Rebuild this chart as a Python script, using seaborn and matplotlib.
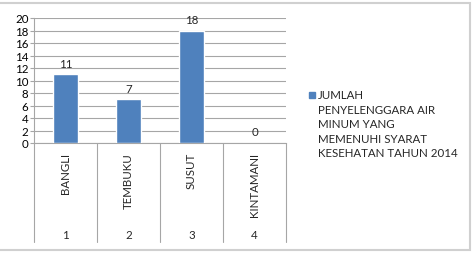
import matplotlib
matplotlib.use("Agg")
import matplotlib.pyplot as plt
from matplotlib.patches import Rectangle
import seaborn as sns
import pandas as pd

categories = ["BANGLI", "TEMBUKU", "SUSUT", "KINTAMANI"]
numbers = ["1", "2", "3", "4"]
values = [11, 7, 18, 0]
legend_label = "JUMLAH\nPENYELENGGARA AIR\nMINUM YANG\nMEMENUHI SYARAT\nKESEHATAN TAHUN 2014"

sns.set_style("white")
plt.rcParams["font.family"] = ["Lato", "DejaVu Sans"]
FS = 8.3

W, H = 473, 255
fig = plt.figure(figsize=(W / 100, H / 100), dpi=100)
L, R, T, B = 34, 286, 19, 144
ax = fig.add_axes([L / W, 1 - B / H, (R - L) / W, (B - T) / H])

df = pd.DataFrame({"cat": categories, "val": values})
sns.barplot(data=df, x="cat", y="val", order=categories, color="#4F81BD",
            saturation=1, width=0.4, ax=ax, zorder=3)
ax.set_xlim(-0.5, 3.5)
ax.set_ylim(0, 20)
ax.set_yticks(range(0, 21, 2))
ax.set_xlabel("")
ax.set_ylabel("")
ax.set_xticks([])
grid_c = "#a6a6a6"
ax.yaxis.grid(True, color=grid_c, linewidth=0.8, zorder=0)
ax.set_axisbelow(True)
for s in ["top", "right"]:
    ax.spines[s].set_visible(False)
for s in ["left", "bottom"]:
    ax.spines[s].set_color(grid_c)
    ax.spines[s].set_linewidth(0.8)
ax.tick_params(axis="y", length=3, width=0.8, color=grid_c, labelsize=FS,
               pad=1, left=True, labelcolor="black")

for cont in ax.containers:
    ax.bar_label(cont, labels=[str(v) for v in values], padding=4, fontsize=FS)

# category table
sep_bottom = -(243 - B) / (B - T)
trans = ax.get_xaxis_transform()
for i in range(len(categories) + 1):
    ax.plot([i - 0.5, i - 0.5], [0, sep_bottom], transform=trans, color=grid_c,
            linewidth=0.8, clip_on=False)
for i, (c, n) in enumerate(zip(categories, numbers)):
    ax.text(i, -(153 - B) / (B - T), c, transform=trans, rotation=90,
            ha="center", va="top", fontsize=FS)
    ax.text(i, -(236 - B) / (B - T), n, transform=trans,
            ha="center", va="center", fontsize=FS)

# legend (manual)
fig.add_artist(Rectangle((309 / W, 1 - 99 / H), 6 / W, 6 / H,
                         transform=fig.transFigure, color="#4F81BD"))
fig.text(318 / W, 1 - 90 / H, legend_label, ha="left", va="top",
         fontsize=FS, linespacing=1.4)

# chart border
fig.add_artist(Rectangle((-5 / W, 1 - 251 / H), 475 / W, 247 / H,
                         transform=fig.transFigure, fill=False,
                         edgecolor="#d0d0d0", linewidth=1.5))

fig.savefig("out.png", dpi=100)
